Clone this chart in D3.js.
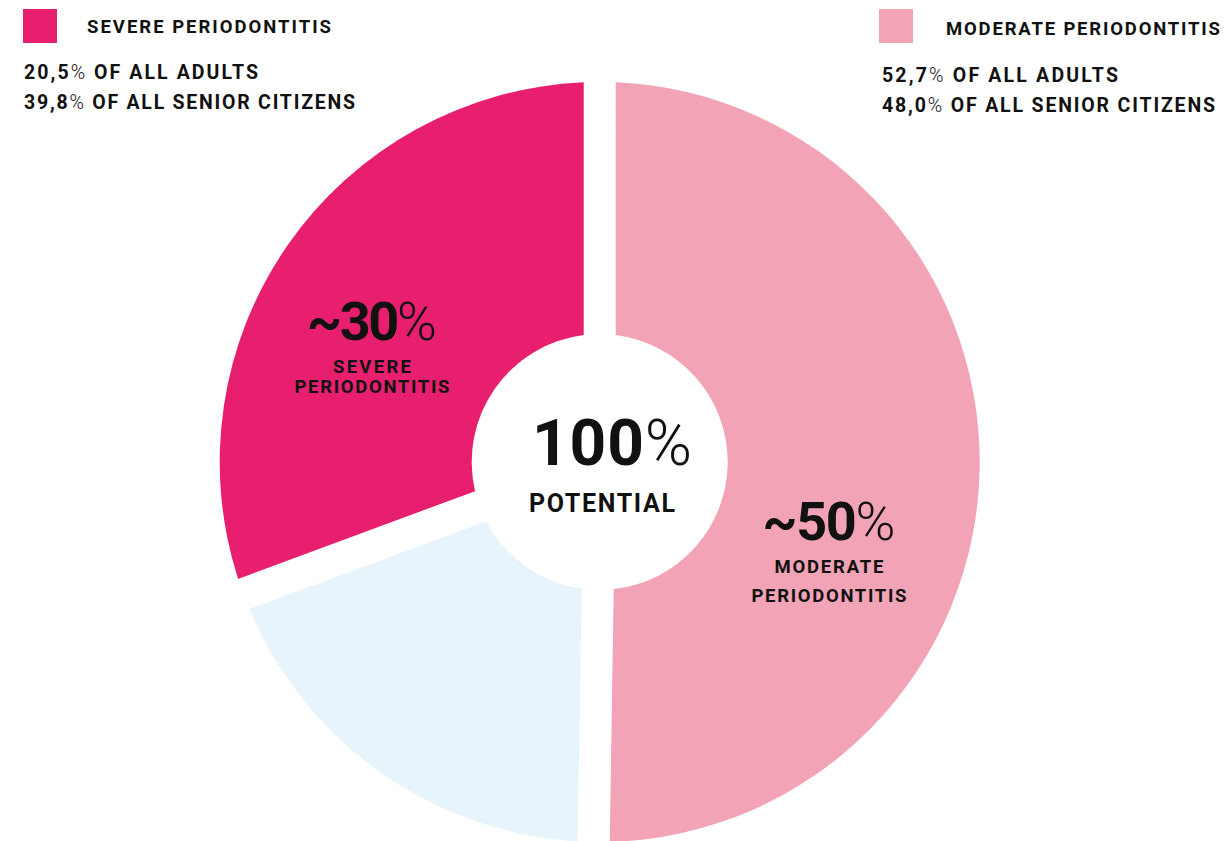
<!DOCTYPE html>
<html><head><meta charset="utf-8">
<script src="https://cdn.jsdelivr.net/npm/d3@7"></script>
<style>
html,body{margin:0;padding:0;background:#fff;}
svg{display:block;}
text{font-family:"Roboto","DejaVu Sans",sans-serif;font-weight:700;fill:#111;}
</style></head>
<body>
<svg id="chart" width="1225" height="841"></svg>
<script>
// ---- data ----
const categories = ["Moderate periodontitis", "No periodontitis", "Severe periodontitis"];
const shares = [50.25, 19.1, 30.65];
const colors = ["#F2A3B5", "#E8F4FC", "#E81E6E"];
const sliceLabels = [
  {big: "~50", sub: ["MODERATE", "PERIODONTITIS"]},
  null,
  {big: "~30", sub: ["SEVERE", "PERIODONTITIS"]}
];
const legendTitles = ["SEVERE PERIODONTITIS", "MODERATE PERIODONTITIS"];
const legendLines = [
  ["20,5% OF ALL ADULTS", "39,8% OF ALL SENIOR CITIZENS"],
  ["52,7% OF ALL ADULTS", "48,0% OF ALL SENIOR CITIZENS"]
];
const centerBig = "100";
const centerSub = "POTENTIAL";

// ---- layout ----
const svg = d3.select("#chart");
const cx = 599.7, cy = 462, rOuter = 380, rInner = 128, gap = 32;

const pie = d3.pie().sort(null).value(d => d).startAngle(0).endAngle(2 * Math.PI);
const arc = d3.arc().innerRadius(rInner).outerRadius(rOuter)
  .padRadius(rOuter).padAngle(gap / rOuter);

const g = svg.append("g").attr("transform", `translate(${cx},${cy})`);
g.selectAll("path").data(pie(shares)).join("path")
  .attr("d", arc).attr("fill", (d, i) => colors[i]);

// helper: text fitted to a width by letter-spacing
function txt(parent, x, y, s, size, width, anchor) {
  const t = parent.append("text").attr("x", x).attr("y", y)
    .attr("font-size", size).attr("text-anchor", anchor || "start")
    .attr("letter-spacing", 0);
  const parts = s.split("%");
  parts.forEach((p, i) => {
    if (p.length) t.append("tspan").text(p);
    if (i < parts.length - 1) t.append("tspan").attr("font-weight", 300).text("%");
  });
  if (width) {
    const w = t.node().getComputedTextLength();
    const n = s.length;
    const ls = (width - w) / Math.max(1, n - 1);
    t.attr("letter-spacing", ls);
    if ((anchor || "start") === "middle") t.attr("x", x + ls / 2);
  }
  return t;
}

// ---- legends ----
const leg = [
  {sq: [23, 9], title: [87, 33, 244], lines: [[24, 79, 234], [24, 109, 331]], color: colors[2]},
  {sq: [879, 9], title: [946, 35, 274], lines: [[882, 82, 236], [882, 112, 333]], color: colors[0]}
];
leg.forEach((L, i) => {
  svg.append("rect").attr("x", L.sq[0]).attr("y", L.sq[1]).attr("width", 34).attr("height", 34).attr("fill", L.color);
  txt(svg, L.title[0], L.title[1], legendTitles[i], 18.5, L.title[2]);
  legendLines[i].forEach((s, j) => txt(svg, L.lines[j][0], L.lines[j][1], s, 19.5, L.lines[j][2]));
});

// ---- slice labels ----
const labelPos = [
  {x: 829, big: [540, 133], s1: [573, 109], s2: [602, 155]},
  null,
  {x: 372, big: [340, 130], s1: [373, 78], s2: [393, 155]}
];
sliceLabels.forEach((L, i) => {
  if (!L) return;
  const P = labelPos[i];
  txt(svg, P.x, P.big[0], L.big + "%", 54, P.big[1], "middle");
  txt(svg, P.x, P.s1[0], L.sub[0], 18.5, P.s1[1], "middle");
  txt(svg, P.x, P.s2[0], L.sub[1], 18.5, P.s2[1], "middle");
});

// ---- centre ----
txt(svg, 612, 465, centerBig + "%", 64, 160, "middle");
txt(svg, 602, 512, centerSub, 25, 146, "middle");
</script>
</body></html>
